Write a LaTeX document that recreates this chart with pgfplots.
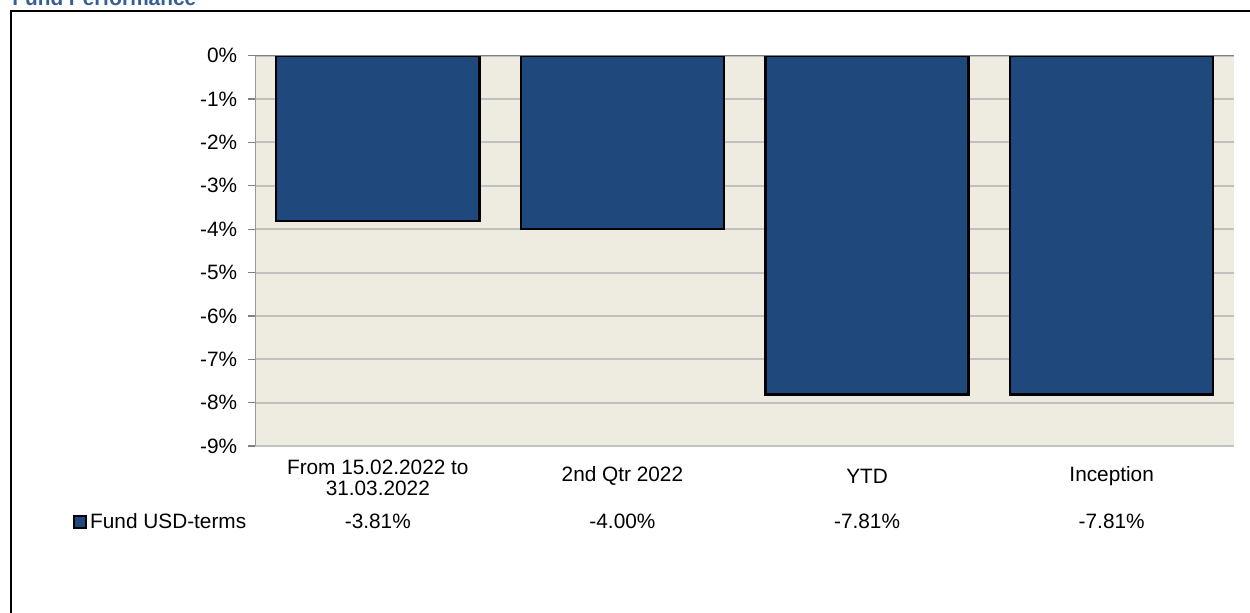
\documentclass[border=0pt]{standalone}
\usepackage{pgfplots}
\pgfplotsset{compat=1.18}
\usepackage{fontspec}
\setmainfont{Liberation Sans}
\definecolor{barblue}{RGB}{31,73,125}
\definecolor{bgtan}{RGB}{238,236,225}
\definecolor{gridgray}{RGB}{192,192,192}
\definecolor{titleblue}{RGB}{55,96,146}
\definecolor{axisgray}{RGB}{128,128,128}
\begin{document}
\begin{tikzpicture}
\useasboundingbox (0pt,0pt) rectangle (625pt,-306pt);
\clip (0pt,0pt) rectangle (625pt,-306pt);
\node[anchor=base west, inner sep=0pt, font=\fontsize{10.4}{12}\selectfont\bfseries, text=titleblue] at (6pt,-2.5pt) {Fund Performance};
\draw[line width=1pt] (5.5pt,-330pt) -- (5.5pt,-5.5pt) -- (645pt,-5.5pt);
\begin{axis}[
  at={(127.75pt,-223pt)}, anchor=south west,
  scale only axis, width=489.25pt, height=195.15pt,
  xmin=-0.5, xmax=3.5, ymin=-9, ymax=0,
  clip=false,
  axis background/.style={fill=bgtan},
  axis y line*=left, axis x line*=bottom,
  y axis line style={-, draw=axisgray!80!white, line width=0.6pt},
  x axis line style={-, draw=gridgray, line width=1pt},
  xtick=\empty,
  ytick={-9,-8,-7,-6,-5,-4,-3,-2,-1,0},
  yticklabels={-9\%,-8\%,-7\%,-6\%,-5\%,-4\%,-3\%,-2\%,-1\%,0\%},
  tick align=outside, major tick length=3.5pt,
  ytick style={draw=axisgray, line width=0.6pt},
  yticklabel style={font=\fontsize{10.4}{12}\selectfont, inner sep=0pt, xshift=-5.5pt},
  ymajorgrids, grid style={draw=gridgray, line width=1pt},
  legend style={at={(-0.1865,-0.195)}, anchor=west, draw=none, fill=none,
    inner sep=0pt, font=\fontsize{10.4}{12}\selectfont, nodes={inner sep=0pt},
    /tikz/every odd column/.style={column sep=1.5pt}},
  legend image code/.code={\draw[fill=barblue, draw=black, line width=0.9pt] (0pt,-3pt) rectangle (6pt,3pt);},
]
\addplot[ybar, bar width=0.83, fill=barblue, draw=black, line width=1.2pt]
  coordinates {(0,-3.81) (1,-4.00) (2,-7.81) (3,-7.81)};
\addlegendentry{Fund USD-terms}
\draw[axisgray, line width=0.6pt] (axis cs:-0.5,0) -- (axis cs:3.5,0);
\begin{scope}[every node/.style={font=\fontsize{10.4}{10.5}\selectfont, align=center, inner sep=0pt}]
\node at (axis cs:0,-9.74) {From 15.02.2022 to\\31.03.2022};
\node at (axis cs:1,-9.69) {2nd Qtr 2022};
\node at (axis cs:2,-9.69) {YTD};
\node at (axis cs:3,-9.69) {Inception};
\node at (axis cs:0,-10.74) {-3.81\%};
\node at (axis cs:1,-10.74) {-4.00\%};
\node at (axis cs:2,-10.74) {-7.81\%};
\node at (axis cs:3,-10.74) {-7.81\%};
\end{scope}
\end{axis}
\end{tikzpicture}
\end{document}
